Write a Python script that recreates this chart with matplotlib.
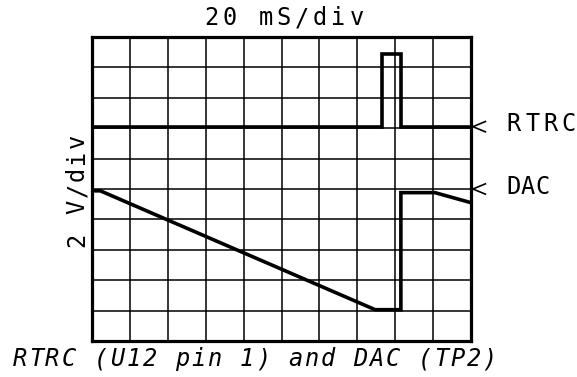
import matplotlib
matplotlib.use("Agg")
import matplotlib.pyplot as plt

# Pantalla del osciloscopio: 10 x 10 divisiones
n_div_x = 10
n_div_y = 10

# RTRC (U12 pin 1), en divisiones
rtrc_t = [0.0, 7.64, 7.64, 8.14, 8.14, 10.0]
rtrc_v = [7.05, 7.05, 9.45, 9.45, 7.05, 7.05]

# DAC (TP2), en divisiones
dac_t = [0.0, 0.22, 7.47, 8.15, 8.15, 9.05, 10.0]
dac_v = [4.94, 4.94, 1.03, 1.03, 4.88, 4.88, 4.55]

# Marcas de nivel a la derecha
marcas = ["RTRC", "DAC"]
marcas_nivel = [7.05, 5.0]

W, H = 577, 377
fig = plt.figure(figsize=(W / 100, H / 100), dpi=100)
fig.patch.set_facecolor("white")

ax = fig.add_axes([92 / W, 1 - 341 / H, 379 / W, 304 / H])
ax.set_xlim(0, n_div_x)
ax.set_ylim(0, n_div_y)
ax.set_xticks([])
ax.set_yticks([])
for s in ax.spines.values():
    s.set_linewidth(2.3)
    s.set_color("black")

# reticula
for i in range(1, n_div_x):
    ax.axvline(i, color="black", lw=1.1)
for j in range(1, n_div_y):
    ax.axhline(j, color="black", lw=1.1)

ax.plot(rtrc_t, rtrc_v, color="black", lw=2.6, solid_joinstyle="miter")
ax.plot(dac_t, dac_v, color="black", lw=2.6, solid_joinstyle="miter")

# flechitas "<" en el borde derecho
for nivel in marcas_nivel:
    ax.plot([10.38, 10.05, 10.38], [nivel + 0.17, nivel, nivel - 0.17],
            color="black", lw=1.2, clip_on=False)


def texto_mono(x, y, s, paso, size=17, rot=0, style="normal"):
    # escribe letra por letra con paso fijo (en pixeles), como plotter
    for k, c in enumerate(s):
        if c == " ":
            continue
        if rot == 0:
            px, py = x + k * paso, y
        else:
            px, py = x, y - k * paso
        fig.text(px / W, 1 - py / H, c, fontsize=size, rotation=rot,
                 style=style, ha="center", va="center",
                 family="DejaVu Sans Mono")


texto_mono(211, 18, "20 mS/div", 18.2)
texto_mono(77, 240, "2 V/div", 16.6, rot=90)
texto_mono(20, 359, "RTRC (U12 pin 1) and DAC (TP2)", 16.2, style="italic")
texto_mono(514, 124, marcas[0], 18.3)
texto_mono(513, 187, marcas[1], 14.8)

fig.savefig("out.png", dpi=100)
